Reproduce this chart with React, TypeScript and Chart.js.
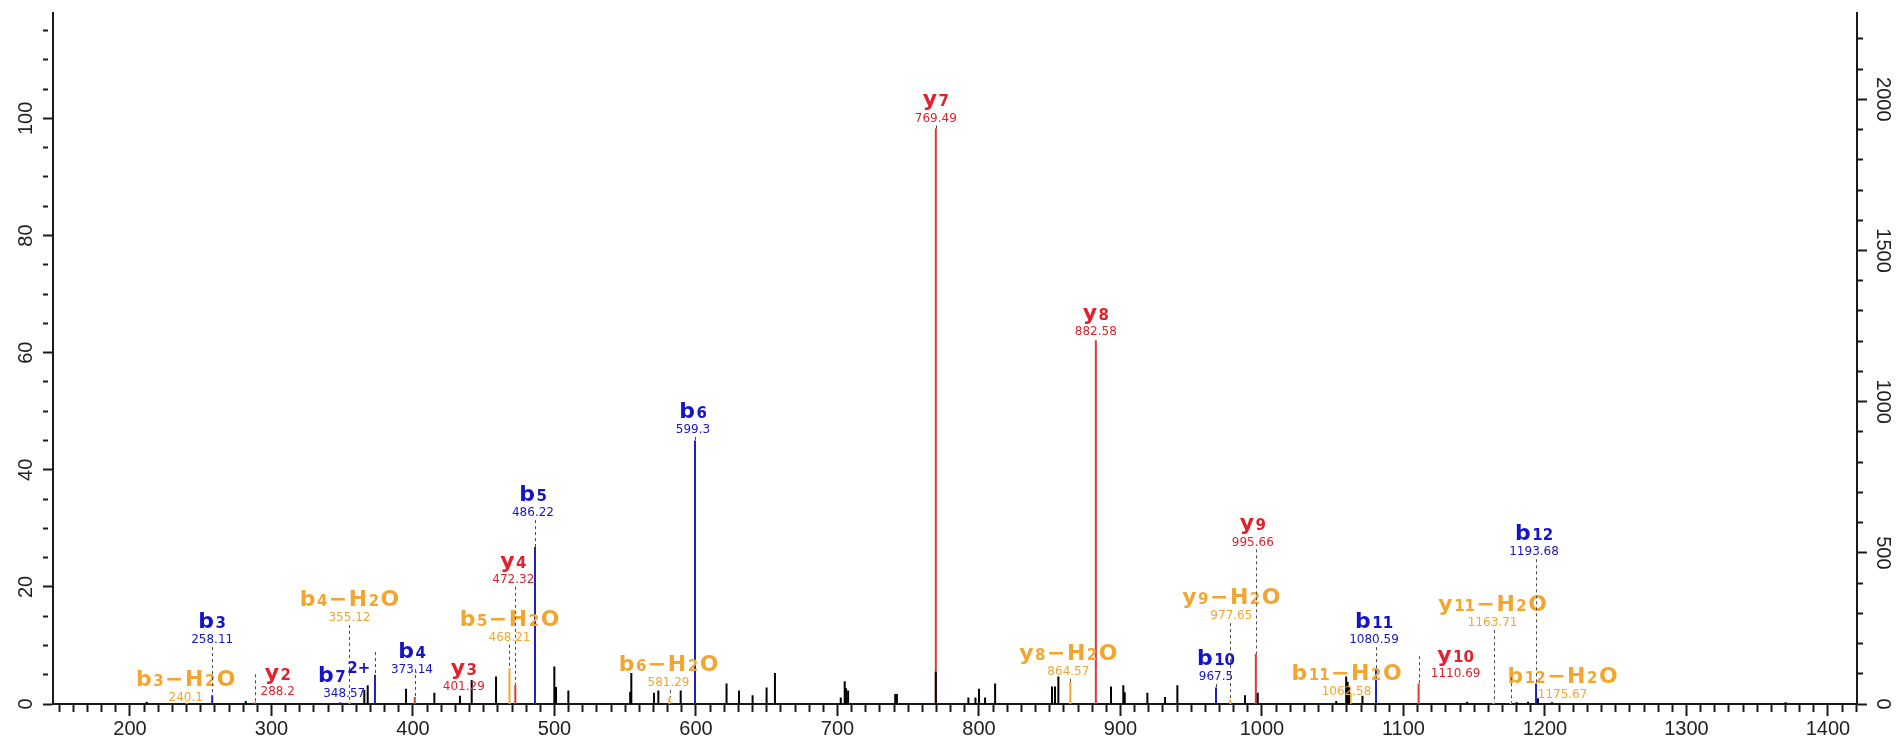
import React, { useEffect, useRef } from "react";
import { Chart, registerables } from "chart.js";

Chart.register(...registerables);

// ---- annotated fragment ions (sorted by m/z) ----
const ionSeries = ["b", "b", "y", "b", "b", "b", "y", "b", "y", "b", "b", "b", "y", "y", "y", "b", "y", "y", "b", "b", "y", "y", "b", "b"];
const ionNumbers = [3, 3, 2, 7, 4, 4, 3, 5, 4, 5, 6, 6, 7, 8, 8, 10, 9, 9, 11, 11, 10, 11, 12, 12];
const ionLosses = ["H2O", "", "", "", "H2O", "", "", "H2O", "", "", "H2O", "", "", "H2O", "", "", "H2O", "", "H2O", "", "", "H2O", "H2O", ""];
const ionCharges = [1, 1, 1, 2, 1, 1, 1, 1, 1, 1, 1, 1, 1, 1, 1, 1, 1, 1, 1, 1, 1, 1, 1, 1];
const ionMz = [240.1, 258.11, 288.2, 348.57, 355.12, 373.14, 401.29, 468.21, 472.32, 486.22, 581.29, 599.3, 769.49, 864.57, 882.58, 967.5, 977.65, 995.66, 1062.58, 1080.59, 1110.69, 1163.71, 1175.67, 1193.68];
const ionIntensity = [0.3, 1.5, 0.3, 0.3, 0.3, 5.0, 1.2, 6.1, 3.2, 26.8, 1.2, 45.0, 98.3, 3.8, 62.1, 2.8, 0.7, 8.6, 2.0, 6.1, 3.5, 0.2, 0.2, 3.5];

// ---- unassigned peaks ----
const otherMz = [211.8, 281.8, 365.6, 368.0, 395.1, 415.1, 433.2, 441.5, 458.7, 499.9, 501.1, 509.8, 553.5, 554.3, 570.3, 573.4, 589.2, 621.6, 630.4, 640.0, 649.9, 655.8, 702.3, 705.1, 706.0, 707.5, 740.8, 742.0, 769.49, 792.5, 797.5, 800.0, 804.3, 811.4, 851.6, 853.7, 856.1, 893.3, 902.0, 903.0, 919.0, 931.5, 940.2, 988.0, 997.0, 1052.5, 1059.5, 1060.5, 1061.5, 1071.0, 1145.0, 1180.0, 1188.0, 1195.0, 1205.0, 1370.0];
const otherIntensity = [0.4, 0.5, 2.4, 3.2, 2.6, 1.9, 1.4, 4.1, 4.7, 6.4, 2.9, 2.3, 2.1, 5.3, 1.9, 2.3, 2.3, 3.5, 2.3, 1.5, 2.8, 5.3, 1.1, 3.9, 2.7, 2.3, 1.7, 1.7, 5.5, 1.1, 1.1, 2.6, 1.1, 3.5, 3.0, 3.0, 4.7, 3.0, 3.2, 2.0, 1.9, 1.2, 3.2, 1.5, 1.9, 0.5, 4.7, 3.8, 3.0, 1.4, 0.4, 0.3, 0.4, 1.0, 0.3, 0.3];

// ---- axes ----
const mzMin = 145.6;
const mzMax = 1420.5;
const relMax = 118;
const countsPerPercent = 19.37;

// label placement: level of the m/z text (relative-intensity units) and horizontal shift in px
const labelLevel = [1.0, 10.9, 2.0, 1.7, 14.7, 5.8, 2.9, 11.3, 21.2, 32.6, 3.6, 46.8, 100.0, 5.5, 63.5, 4.6, 15.0, 27.6, 2.0, 10.9, 5.1, 13.8, 1.5, 25.9];
const labelShift = [-1, 0, 23, 4, 0, 37, 49, 0, -2, -2, -1, -2, 0, -2, 0, 0, 1, -3, -4, -2, 37, -1, 52, -2];

const BLUE = "#1414cc";
const RED = "#e3202b";
const ORANGE = "#f2a630";
const AXIS = "#1a1a1a";
const TICK_FONT = { family: "'Liberation Sans', Arial, sans-serif", size: 20 };
const NAME_FONT = "bold 22px 'DejaVu Sans', sans-serif";
const SMALL_FONT = "bold 15px 'DejaVu Sans', sans-serif";
const MASS_FONT = "12px 'DejaVu Sans', sans-serif";

function ionColor(i: number): string {
  if (ionLosses[i]) return ORANGE;
  return ionSeries[i] === "b" ? BLUE : RED;
}

function stems(mz: number[], inten: number[]) {
  const pts: { x: number; y: number | null }[] = [];
  mz.forEach((m, i) => {
    pts.push({ x: m, y: 0 }, { x: m, y: inten[i] }, { x: m, y: null });
  });
  return pts;
}

const ionLabelPlugin = {
  id: "ionLabels",
  afterDatasetsDraw(chart: any) {
    const { ctx } = chart;
    const xs = chart.scales.x;
    const ys = chart.scales.y;
    const gap = 1.5;
    const connectors: number[][] = [];
    ctx.save();
    ionMz.forEach((mz, i) => {
      const px = xs.getPixelForValue(mz);
      const peakY = ys.getPixelForValue(ionIntensity[i]);
      const massY = ys.getPixelForValue(labelLevel[i]);
      const cx = px + labelShift[i];
      const nameBase = massY - 12;
      const color = ionColor(i);

      const parts: { t: string; f: string; dy: number }[] = [
        { t: ionSeries[i], f: NAME_FONT, dy: 0 },
        { t: String(ionNumbers[i]), f: SMALL_FONT, dy: 0 },
      ];
      if (ionCharges[i] > 1) parts.push({ t: ionCharges[i] + "+", f: SMALL_FONT, dy: -9 });
      if (ionLosses[i]) {
        parts.push(
          { t: "\u2212", f: NAME_FONT, dy: 0 },
          { t: "H", f: NAME_FONT, dy: 0 },
          { t: "2", f: SMALL_FONT, dy: 0 },
          { t: "O", f: NAME_FONT, dy: 0 }
        );
      }
      const widths = parts.map((p) => {
        ctx.font = p.f;
        return ctx.measureText(p.t).width;
      });
      const total = widths.reduce((a, b) => a + b, 0) + gap * (parts.length - 1);
      let x = cx - total / 2;
      ctx.fillStyle = color;
      ctx.textAlign = "left";
      ctx.textBaseline = "alphabetic";
      parts.forEach((p, k) => {
        ctx.font = p.f;
        ctx.fillText(p.t, x, nameBase + p.dy);
        x += widths[k] + gap;
      });

      ctx.font = MASS_FONT;
      ctx.textAlign = "center";
      ctx.textBaseline = "middle";
      ctx.fillText(String(mz), cx, massY);

      const startY = Math.abs(labelShift[i]) > 15 ? nameBase - 6 : massY + 7;
      if (startY < peakY - 2) connectors.push([px, startY, peakY]);
    });

    ctx.strokeStyle = "#4a4a4a";
    ctx.lineWidth = 1;
    ctx.setLineDash([3, 3]);
    connectors.forEach(([px, y0, y1]) => {
      ctx.beginPath();
      ctx.moveTo(Math.round(px) + 0.5, y0);
      ctx.lineTo(Math.round(px) + 0.5, y1);
      ctx.stroke();
    });
    ctx.restore();
  },
};

const tickDash = (step: number, len: number) => (c: any) =>
  c.tick && Math.round(c.tick.value) % step === 0 ? [] : [len, 60];

export default function App() {
  const ref = useRef<HTMLCanvasElement | null>(null);

  useEffect(() => {
    if (!ref.current) return;
    const pick = (col: string) => ({
      mz: ionMz.filter((_, i) => ionColor(i) === col),
      inten: ionIntensity.filter((_, i) => ionColor(i) === col),
    });
    const groups = [
      { mz: otherMz, inten: otherIntensity, color: "#000000" },
      { ...pick(BLUE), color: "#2020b8" },
      { ...pick(RED), color: "#d83a3a" },
      { ...pick(ORANGE), color: ORANGE },
    ];
    const chart = new Chart(ref.current, {
      type: "line",
      data: {
        datasets: groups.map((g) => ({
          data: stems(g.mz, g.inten),
          borderColor: g.color,
          borderWidth: 2,
          pointRadius: 0,
          spanGaps: false,
          fill: false,
          tension: 0,
          yAxisID: "y",
        })),
      },
      options: {
        animation: false,
        responsive: true,
        maintainAspectRatio: false,
        events: [],
        parsing: { xAxisKey: "x", yAxisKey: "y" },
        layout: { padding: { top: 13, left: 0, right: 0, bottom: 0 } },
        plugins: { legend: { display: false }, tooltip: { enabled: false }, title: { display: false } },
        scales: {
          x: {
            type: "linear",
            position: "bottom",
            min: mzMin,
            max: mzMax,
            offset: false,
            border: { display: true, color: AXIS, width: 2 },
            grid: {
              drawOnChartArea: false,
              drawTicks: true,
              tickLength: 12,
              tickWidth: 2,
              tickColor: AXIS,
              tickBorderDash: tickDash(100, 7),
            },
            ticks: {
              stepSize: 10,
              autoSkip: false,
              includeBounds: false,
              maxRotation: 0,
              minRotation: 0,
              padding: 1,
              color: "#222",
              font: TICK_FONT,
              callback: (v: any) => (Math.round(Number(v)) % 100 === 0 ? String(Math.round(Number(v))) : ""),
            },
            afterFit: (s: any) => {
              s.height = 39;
            },
          },
          y: {
            type: "linear",
            position: "left",
            min: 0,
            max: relMax,
            border: { display: true, color: AXIS, width: 2 },
            grid: {
              drawOnChartArea: false,
              drawTicks: true,
              tickLength: 10,
              tickWidth: 2,
              tickColor: AXIS,
              tickBorderDash: tickDash(20, 5),
            },
            ticks: {
              stepSize: 5,
              autoSkip: false,
              includeBounds: false,
              minRotation: 90,
              maxRotation: 90,
              crossAlign: "center",
              padding: 0,
              color: "#222",
              font: TICK_FONT,
              callback: (v: any) => (Math.round(Number(v)) % 20 === 0 ? String(Math.round(Number(v))) : ""),
            },
            afterFit: (s: any) => {
              s.width = 53;
            },
          },
          y2: {
            type: "linear",
            position: "right",
            min: 0,
            max: relMax * countsPerPercent,
            border: { display: true, color: AXIS, width: 2 },
            grid: {
              drawOnChartArea: false,
              drawTicks: true,
              tickLength: 10,
              tickWidth: 2,
              tickColor: AXIS,
              tickBorderDash: tickDash(500, 5),
            },
            ticks: {
              stepSize: 100,
              autoSkip: false,
              includeBounds: false,
              minRotation: -90,
              maxRotation: -90,
              crossAlign: "center",
              padding: -7,
              color: "#222",
              font: TICK_FONT,
              callback: (v: any) => (Math.round(Number(v)) % 500 === 0 ? String(Math.round(Number(v))) : ""),
            },
            afterFit: (s: any) => {
              s.width = 39;
            },
          },
        },
      },
      plugins: [ionLabelPlugin],
    } as any);
    return () => chart.destroy();
  }, []);

  return (
    <div style={{ position: "fixed", left: 0, top: 0, width: 1896, height: 743, background: "#fff" }}>
      <canvas ref={ref} style={{ display: "block" }} />
    </div>
  );
}
